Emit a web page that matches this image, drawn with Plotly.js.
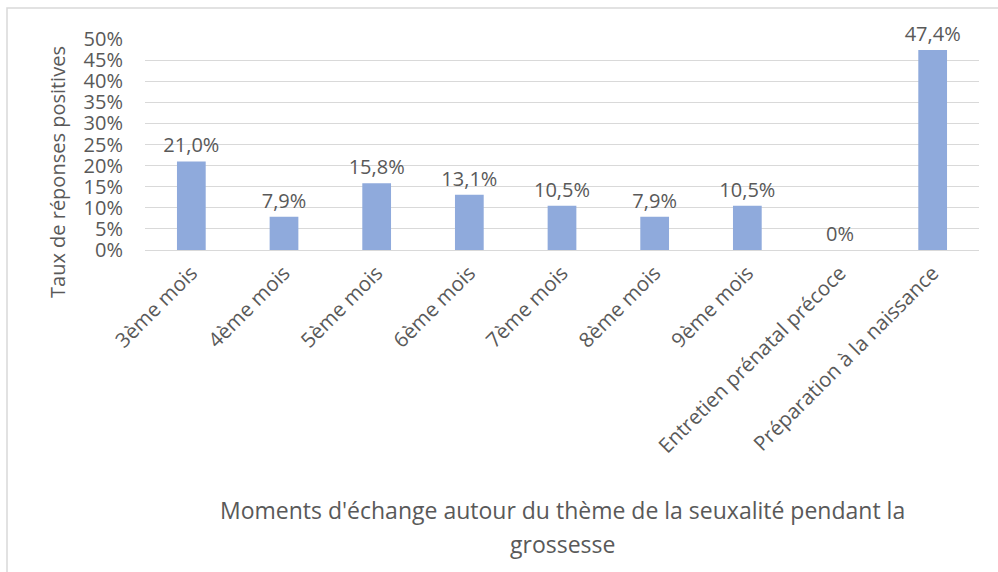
<!DOCTYPE html>
<html>
<head>
<meta charset="utf-8">
<script src="https://cdn.plot.ly/plotly-3.0.1.min.js"></script>
<style>html,body{margin:0;padding:0;background:#fff;}#chart{width:998px;height:572px;}</style>
</head>
<body>
<div id="chart"></div>
<script>
const categories = ["3ème mois","4ème mois","5ème mois","6ème mois","7ème mois","8ème mois","9ème mois","Entretien prénatal précoce","Préparation à la naissance"];
const values = [21.0, 7.9, 15.8, 13.1, 10.5, 7.9, 10.5, 0, 47.4];
const valueLabels = ["21,0%","7,9%","15,8%","13,1%","10,5%","7,9%","10,5%","0%","47,4%"];
const yTitle = "Taux de réponses positives";
const xTitleLines = ["Moments d'échange autour du thème de la seuxalité pendant la", "grossesse"];

const FONT = "'Open Sans', sans-serif";
const TXT = "#595959";

const trace = {
  type: "bar",
  x: categories,
  y: values,
  text: valueLabels,
  textposition: "outside",
  texttemplate: "%{text}",
  constraintext: "none",
  cliponaxis: false,
  textfont: {family: FONT, size: 20, color: TXT},
  marker: {color: "#8faadc"},
  width: 0.31,
  hoverinfo: "skip"
};

const L = 145, R = 19, T = 39, B = 322;
const W = 998, H = 572;
const pw = W - L - R, ph = H - T - B;
function px(x){ return (x - L) / pw; }
function py(y){ return (H - B - y) / ph; }

const layout = {
  width: W, height: H,
  margin: {l: L, r: R, t: T, b: B, pad: 0},
  paper_bgcolor: "#fff",
  plot_bgcolor: "#fff",
  showlegend: false,
  font: {family: FONT, color: TXT},
  xaxis: {
    tickangle: -45,
    tickfont: {family: FONT, size: 20.5, color: TXT},
    ticklabelstandoff: 6,
    showgrid: false,
    showline: false,
    ticks: "",
    automargin: false
  },
  yaxis: {
    range: [0, 50],
    dtick: 5,
    ticksuffix: "%",
    tickfont: {family: FONT, size: 20, color: TXT},
    ticklabelstandoff: 21,
    showgrid: true,
    gridcolor: "#d9d9d9",
    gridwidth: 1,
    zeroline: true,
    zerolinecolor: "#d9d9d9",
    zerolinewidth: 1,
    ticks: "",
    automargin: false
  },
  annotations: [
    {text: yTitle, xref: "paper", yref: "paper", x: px(57), y: py(172), textangle: -90,
     showarrow: false, xanchor: "center", yanchor: "middle", font: {family: FONT, size: 20, color: TXT}},
    {text: xTitleLines[0], xref: "paper", yref: "paper", x: px(562), y: py(510),
     showarrow: false, xanchor: "center", yanchor: "middle", font: {family: FONT, size: 23, color: TXT}},
    {text: xTitleLines[1], xref: "paper", yref: "paper", x: px(562), y: py(544),
     showarrow: false, xanchor: "center", yanchor: "middle", font: {family: FONT, size: 23, color: TXT}}
  ],
  shapes: [
    {type: "rect", xref: "paper", yref: "paper", x0: px(7), x1: px(1005), y0: py(580), y1: py(8),
     line: {color: "#d9d9d9", width: 1.5}, fillcolor: "rgba(0,0,0,0)", layer: "below"}
  ]
};

Plotly.newPlot("chart", [trace], layout, {displayModeBar: false, staticPlot: true});
</script>
</body>
</html>
